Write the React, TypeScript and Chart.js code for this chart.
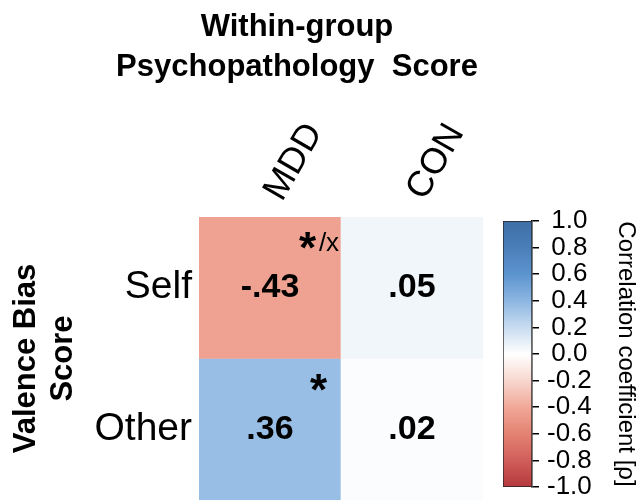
import React, { useEffect, useRef } from "react";
import { Chart, registerables } from "chart.js";

Chart.register(...registerables);

// ---- data ----
const columns = ["MDD", "CON"];
const rows = ["Self", "Other"];
const selfValues = [-0.43, 0.05];
const otherValues = [0.36, 0.02];
const selfMarks = ["*/x", ""];
const otherMarks = ["*", ""];
const titleLines = ["Within-group", "Psychopathology  Score"];
const rowAxisTitle = ["Valence Bias", "Score"];
const colorbarTitle = "Correlation coefficient [\u03c1]";
const colorbarMin = -1;
const colorbarMax = 1;
const colorbarStep = 0.2;

// colormap (style)
const cmapValues = [-1, -0.8, -0.6, -0.4, -0.2, 0, 0.2, 0.4, 0.6, 0.8, 1];
const cmapColors = [
  "#B5383C", "#D05E5A", "#E48273", "#F1A898", "#F7D7CF", "#FFFFFF",
  "#C8DCF0", "#8CB6E2", "#5C94CE", "#4A7EB9", "#3E6EA5",
];

const FONT = "'Liberation Sans', Arial, Helvetica, sans-serif";

function hexToRgb(h: string) {
  const n = parseInt(h.slice(1), 16);
  return [(n >> 16) & 255, (n >> 8) & 255, n & 255];
}
function cmap(v: number) {
  const x = Math.max(colorbarMin, Math.min(colorbarMax, v));
  for (let i = 0; i < cmapValues.length - 1; i++) {
    if (x >= cmapValues[i] && x <= cmapValues[i + 1]) {
      const t = (x - cmapValues[i]) / (cmapValues[i + 1] - cmapValues[i]);
      const a = hexToRgb(cmapColors[i]);
      const b = hexToRgb(cmapColors[i + 1]);
      const c = a.map((av, k) => Math.round(av + (b[k] - av) * t));
      return `rgb(${c[0]},${c[1]},${c[2]})`;
    }
  }
  return cmapColors[cmapColors.length - 1];
}
function fmt(v: number) {
  const s = Math.abs(v).toFixed(2).replace(/^0/, "");
  return (v < 0 ? "-" : "") + s;
}

const rowValues = [selfValues, otherValues];
const rowMarks = [selfMarks, otherMarks];

const cellTextPlugin = {
  id: "cellText",
  afterDatasetsDraw(chart: any) {
    const ctx = chart.ctx;
    ctx.save();
    chart.data.datasets.forEach((ds: any, di: number) => {
      const meta = chart.getDatasetMeta(di);
      meta.data.forEach((el: any, j: number) => {
        const p = el.getProps(["x", "y", "base", "width"], true);
        const top = Math.min(p.y, p.base);
        const bottom = Math.max(p.y, p.base);
        const cx = p.x;
        const cy = (top + bottom) / 2;
        const right = p.x + p.width / 2;
        // value
        ctx.fillStyle = "#000";
        ctx.font = `bold 34px ${FONT}`;
        ctx.textAlign = "center";
        ctx.textBaseline = "middle";
        ctx.fillText(fmt(rowValues[di][j]), cx, cy);
        // significance marks
        const mark = rowMarks[di][j];
        if (mark) {
          const star = mark.charAt(0);
          const rest = mark.slice(1);
          ctx.textBaseline = "alphabetic";
          ctx.textAlign = "left";
          ctx.font = `bold 44px ${FONT}`;
          const ms = ctx.measureText(star);
          const starW = ms.actualBoundingBoxRight + ms.actualBoundingBoxLeft;
          ctx.font = `26px ${FONT}`;
          const mr = rest ? ctx.measureText(rest) : null;
          const restW = mr ? mr.actualBoundingBoxRight + mr.actualBoundingBoxLeft : 0;
          const gap = rest ? 2 : 0;
          const total = starW + gap + restW;
          const centerX = right - 22;
          const starCY = top + 24;
          const x0 = centerX - total / 2;
          ctx.font = `bold 44px ${FONT}`;
          const starBase = starCY + (ms.actualBoundingBoxAscent - ms.actualBoundingBoxDescent) / 2;
          ctx.fillText(star, x0 + ms.actualBoundingBoxLeft, starBase);
          if (rest && mr) {
            ctx.font = `26px ${FONT}`;
            ctx.fillText(rest, x0 + starW + gap + mr.actualBoundingBoxLeft, starCY + 10.5);
          }
        }
      });
    });
    // column labels (rotated)
    const xs = chart.scales.x;
    ctx.font = `36px ${FONT}`;
    ctx.fillStyle = "#000";
    ctx.textAlign = "center";
    ctx.textBaseline = "middle";
    columns.forEach((c, i) => {
      const px = xs.getPixelForValue(i);
      ctx.save();
      ctx.translate(px + 24, chart.chartArea.top - 55);
      ctx.rotate(-Math.PI / 3);
      ctx.fillText(c, 0, 0);
      ctx.restore();
    });
    ctx.restore();
  },
};

function HeatmapChart() {
  const ref = useRef<HTMLCanvasElement>(null);
  useEffect(() => {
    const n = rows.length;
    const datasets = rows.map((r, i) => ({
      label: r,
      data: columns.map(() => [n - 1 - i, n - i]),
      backgroundColor: rowValues[i].map((v) => cmap(v)),
      borderWidth: 0,
      barPercentage: 1,
      categoryPercentage: 1,
      grouped: false,
    }));
    const chart = new Chart(ref.current as HTMLCanvasElement, {
      type: "bar",
      data: { labels: columns, datasets: datasets as any },
      options: {
        responsive: false,
        animation: false,
        devicePixelRatio: 1,
        layout: { padding: { left: 0, right: 0, top: 0, bottom: 0 } },
        plugins: {
          legend: { display: false },
          tooltip: { enabled: false },
          title: {
            display: true,
            text: titleLines,
            color: "#000",
            font: { family: FONT, size: 31, weight: "bold", lineHeight: 1.29 },
            padding: { top: 7, bottom: 130 },
          },
        },
        scales: {
          x: { type: "category", display: false, offset: true },
          y: {
            type: "linear",
            position: "left",
            min: 0,
            max: rows.length,
            afterBuildTicks: (s: any) => {
              s.ticks = rows.map((_, i) => ({ value: rows.length - 1 - i + 0.5 }));
            },
            afterFit: (s: any) => {
              s.width = 199;
              s.paddingTop = 0;
              s.paddingBottom = 0;
            },
            ticks: {
              callback: (v: any) => rows[rows.length - 1 - Math.floor(Number(v))],
              color: "#000",
              font: { family: FONT, size: 39 },
              padding: 7,
            },
            grid: { display: false, drawTicks: false },
            border: { display: false },
            title: {
              display: true,
              text: rowAxisTitle,
              color: "#000",
              font: { family: FONT, size: 31, weight: "bold", lineHeight: 1.2 },
              padding: { top: 8, bottom: 0 },
            },
          },
          y2: {
            type: "linear",
            position: "right",
            display: true,
            afterFit: (s: any) => {
              s.width = 111;
              s.paddingTop = 0;
              s.paddingBottom = 0;
            },
            ticks: { display: false },
            grid: { display: false, drawTicks: false },
            border: { display: false },
          },
        },
      } as any,
      plugins: [cellTextPlugin],
    });
    return () => chart.destroy();
  }, []);
  return (
    <canvas
      ref={ref}
      width={594}
      height={500}
      style={{ position: "absolute", left: 0, top: 0, display: "block" }}
    />
  );
}

function ColorbarChart() {
  const ref = useRef<HTMLCanvasElement>(null);
  useEffect(() => {
    const chart = new Chart(ref.current as HTMLCanvasElement, {
      type: "bar",
      data: {
        labels: [""],
        datasets: [
          {
            data: [[colorbarMin, colorbarMax]],
            backgroundColor: (c: any) => {
              const area = c.chart.chartArea;
              if (!area) return "#fff";
              const g = c.chart.ctx.createLinearGradient(0, area.bottom, 0, area.top);
              cmapValues.forEach((v, i) => {
                g.addColorStop((v - colorbarMin) / (colorbarMax - colorbarMin), cmapColors[i]);
              });
              return g;
            },
            borderColor: "#222",
            borderWidth: 1,
            borderSkipped: false,
            barPercentage: 1,
            categoryPercentage: 1,
          } as any,
        ],
      },
      options: {
        responsive: false,
        animation: false,
        devicePixelRatio: 1,
        layout: { padding: { left: 13, right: 0, top: 21, bottom: 13 } },
        plugins: { legend: { display: false }, tooltip: { enabled: false } },
        scales: {
          x: { display: false },
          y: {
            position: "right",
            min: colorbarMin,
            max: colorbarMax,
            afterFit: (s: any) => {
              s.width = 104;
              s.paddingTop = 0;
              s.paddingBottom = 0;
            },
            ticks: {
              stepSize: colorbarStep,
              autoSkip: false,
              color: "#000",
              crossAlign: "center",
              padding: 8,
              font: { family: FONT, size: 26, lineHeight: 1 },
              callback: (v: any) => {
                const n = Number(v);
                return Math.abs(n) < 1e-9 ? "0.0" : n.toFixed(1);
              },
            },
            grid: { drawOnChartArea: false, drawTicks: true, tickLength: 7, color: "#000", lineWidth: 1.5 },
            border: { display: true, color: "#000", width: 1.5 },
            title: {
              display: true,
              text: colorbarTitle,
              color: "#000",
              font: { family: FONT, size: 24, lineHeight: 0.85 },
              padding: { top: 0, bottom: 0 },
            },
          },
        },
      } as any,
    });
    return () => chart.destroy();
  }, []);
  return (
    <canvas
      ref={ref}
      width={146}
      height={300}
      style={{ position: "absolute", left: 490, top: 200, display: "block" }}
    />
  );
}

export default function App() {
  return (
    <div
      style={{
        position: "fixed",
        left: 0,
        top: 0,
        width: 636,
        height: 500,
        background: "#fff",
        overflow: "hidden",
      }}
    >
      <HeatmapChart />
      <ColorbarChart />
    </div>
  );
}
